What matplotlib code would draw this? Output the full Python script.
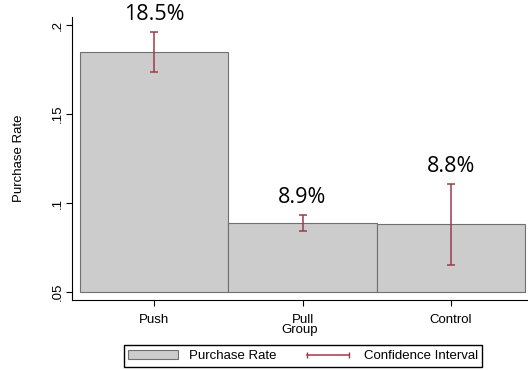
import numpy as np
import matplotlib.pyplot as plt
from matplotlib.lines import Line2D
from matplotlib.patches import Patch

groups = ["Push", "Pull", "Control"]
rate = [0.185, 0.089, 0.088]
ci_low = [0.1736, 0.0843, 0.0652]
ci_high = [0.1959, 0.0931, 0.1108]
labels = ["18.5%", "8.9%", "8.8%"]

bar_col = '#cccccc'
ci_col = '#9b3b4b'

plt.rcParams['font.family'] = ['Liberation Sans', 'DejaVu Sans']

fig = plt.figure(figsize=(5.28, 3.70), dpi=100)
ax = fig.add_axes([72/528, 1-300/370, 1-72/528, (300-17)/370])

x = np.arange(len(groups))
base = 0.05
ax.bar(x, np.array(rate)-base, bottom=base, width=1.0, color=bar_col,
       edgecolor='#707070', linewidth=0.8)

yerr = [np.array(rate)-np.array(ci_low), np.array(ci_high)-np.array(rate)]
ax.errorbar(x, rate, yerr=yerr, fmt='none', ecolor=ci_col, elinewidth=1.1,
            capsize=3, capthick=1.1)

for xi, hi, lab in zip(x, ci_high, labels):
    ax.annotate(lab, (xi, hi), xytext=(0, 5), textcoords='offset points',
                ha='center', va='bottom', fontsize=15.5, family='Open Sans')

ax.set_xlim(-0.554, 2.52)
ax.set_ylim(0.0455, 0.2045)
ax.set_yticks([0.05, 0.1, 0.15, 0.2])
ax.set_yticklabels([".05", ".1", ".15", ".2"], rotation=90, va='center')
ax.set_xticks(x)
ax.set_xticklabels(groups)
ax.tick_params(axis='both', labelsize=9.5, length=4, width=0.8, colors='black')
ax.tick_params(axis='x', pad=6)
ax.tick_params(axis='y', pad=2)
ax.set_xlabel("Group", fontsize=9.5, labelpad=-1)
ax.set_ylabel("Purchase Rate", fontsize=9.5, labelpad=19)
ax.spines['top'].set_visible(False)
ax.spines['right'].set_visible(False)

handles = [Patch(facecolor=bar_col, edgecolor='#707070', linewidth=0.8),
           Line2D([0, 1], [0, 0], color=ci_col, marker='|', markersize=5,
                  linewidth=1.1)]
fig.legend(handles, ["Purchase Rate", "Confidence Interval"], loc='center',
           bbox_to_anchor=(303/528, 1-356/370), ncol=2, fontsize=9.5,
           numpoints=2, handlelength=3.8, fancybox=False, edgecolor='black',
           framealpha=1, borderpad=0.35, columnspacing=2.0, handletextpad=0.8)

plt.savefig("out.png", dpi=100)
